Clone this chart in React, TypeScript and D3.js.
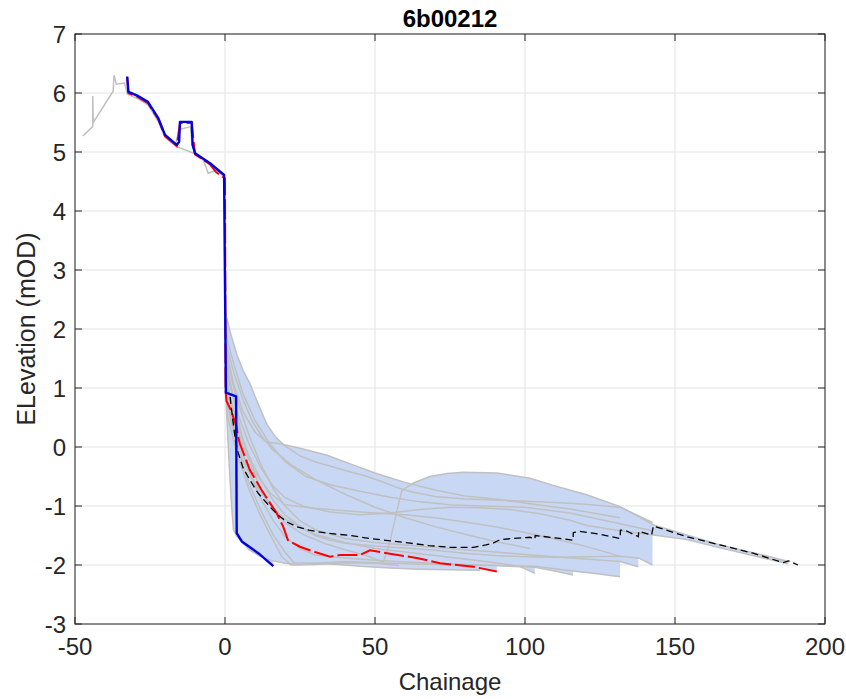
import React from "react";
import * as d3 from "d3";

type P = [number, number];

const TITLE = "6b00212";
const X_LABEL = "Chainage";
const Y_LABEL = "ELevation (mOD)";
const X_TICKS = [-50, 0, 50, 100, 150, 200];
const Y_TICKS = [-3, -2, -1, 0, 1, 2, 3, 4, 5, 6, 7];

const GREY_LAND_1: P[] = [[-47.4,5.27],[-44.1,5.43],[-44.1,5.95],[-43.9,5.5],[-37.3,6.03],[-37,6.3],[-36.2,6.15],[-33.5,6.17],[-32.5,5.98],[-29,5.9],[-25.7,5.8],[-22.3,5.52],[-20,5.25],[-16.1,5.09],[-10,4.97],[-7.2,4.86],[-5.6,4.64],[-2.8,4.69],[-0.3,4.58]];
const GREY_LAND_2: P[] = [[-32.8,6.05],[-29,5.92],[-25.5,5.82],[-22,5.56],[-20,5.3],[-16.5,5.12],[-15.3,5.38],[-11.5,5.43],[-11,5.12],[-10,4.99],[-5,4.8],[-0.2,4.6]];

const G1: P[] = [[0.2,2.27],[2,1.9],[4,1.56],[6,1.3],[8.3,1.08],[10,0.86],[12,0.62],[14,0.38],[17,0.16],[20,0.02],[25,-0.15],[30,-0.25],[36,-0.34],[41,-0.41],[46,-0.48],[52,-0.58],[57,-0.68],[62,-0.76],[70,-0.84],[80,-0.88],[90,-0.9],[100,-0.92],[110,-0.94],[120,-0.97],[131.7,-1.02],[142.5,-1.28]];
const G2: P[] = [[0.3,1.45],[2,1.05],[4,0.55],[6,0.12],[9,-0.35],[12,-0.72],[16,-1.05],[20,-1.28],[26,-1.48],[33,-1.63],[40,-1.74],[47,-1.84],[52.8,-1.95],[55,-1.6],[57,-1.15],[58.9,-0.74],[62.8,-0.61],[68.3,-0.5],[74,-0.45],[79.4,-0.43],[90.6,-0.44],[101.7,-0.53],[109.4,-0.65],[120.6,-0.81],[131.7,-1.01],[142.8,-1.32],[153.9,-1.49],[165,-1.66],[176,-1.79],[187.8,-1.94]];
const G3: P[] = [[0.3,1.65],[3,1.05],[6,0.6],[10,0.25],[13.9,0.08],[18,0.06],[25,-0.02],[34,-0.14],[42,-0.29],[50,-0.44],[60,-0.6],[70,-0.73],[80,-0.83],[90,-0.88],[101.7,-0.96],[115,-1.05],[131.7,-1.2]];
const G4: P[] = [[0.3,1.9],[3,1.4],[6,0.9],[10,0.45],[15,0.05],[20,-0.25],[27,-0.5],[35,-0.64],[45,-0.75],[55,-0.85],[65,-0.93],[75,-0.98],[85,-1.0],[100,-1.02],[115,-1.12],[131.7,-1.3],[142.5,-1.42]];
const G5: P[] = [[0.3,1.2],[3,0.5],[6,0.0],[10,-0.42],[15,-0.78],[20,-0.98],[30,-1.04],[40,-1.08],[50,-1.12],[60,-1.15],[70,-1.2],[80,-1.27],[90,-1.35],[100,-1.45],[110,-1.56],[120,-1.68],[131.7,-1.85]];
const G6: P[] = [[0.3,0.9],[3,0.3],[6,-0.22],[10,-0.62],[15,-0.98],[20,-1.22],[30,-1.48],[40,-1.62],[50,-1.72],[60,-1.78],[70,-1.84],[80,-1.9],[90,-1.96],[98,-2.02],[103.3,-2.14]];
const G7: P[] = [[0.4,1.05],[4,0.2],[8,-0.42],[12,-0.88],[16,-1.24],[20,-1.52],[25,-1.72],[30,-1.83],[40,-1.88],[50,-1.92],[60,-1.95],[70,-1.97],[80,-1.99],[90,-2.01],[103.3,-2.04],[110,-2.1],[116,-2.17]];
const G8: P[] = [[0.4,0.8],[4,0.0],[8,-0.62],[12,-1.08],[16,-1.48],[20,-1.78],[23,-1.96],[30,-1.97],[40,-1.94],[50,-1.96],[60,-1.98],[70,-1.99],[80,-2.0],[90,-2.01],[103.3,-2.02],[116,-2.1],[124,-2.15],[131.7,-2.2]];
const G9: P[] = [[0.4,1.5],[4,0.8],[8,0.2],[12,-0.3],[16,-0.7],[20,-1.0],[25,-1.25],[30,-1.4],[40,-1.55],[50,-1.62],[60,-1.66],[70,-1.7],[80,-1.74],[90,-1.78],[100,-1.82],[110,-1.86],[120,-1.9],[131.7,-1.94],[137.8,-2.03]];
const G10: P[] = [[0.5,0.6],[4,-0.12],[8,-0.72],[12,-1.18],[16,-1.58],[19,-1.86],[22,-2.0],[30,-1.99],[40,-1.96],[50,-1.97],[58,-2.01]];
const G11: P[] = [[0.5,1.1],[4,0.4],[8,-0.15],[12,-0.56],[16,-0.9],[20,-1.15],[25,-1.35],[30,-1.5],[35,-1.58],[40,-1.63],[50,-1.68],[60,-1.71],[70,-1.75],[80,-1.8],[90,-1.84],[100,-1.86],[110,-1.87],[120,-1.86],[131.7,-1.85],[137.8,-1.88],[142.5,-2.0]];
const G12: P[] = [[0.3,1.3],[4,0.6],[8,0.05],[12,-0.36],[16,-0.66],[20,-0.86],[26,-1.0],[35,-1.1],[45,-1.15],[55,-1.12],[65,-1.06],[75,-1.02],[85,-1.03],[95,-1.06],[105,-1.13],[115,-1.24],[120.6,-1.33],[131.7,-1.42],[142.8,-1.49],[154,-1.57],[165,-1.71],[176,-1.84],[187.8,-1.98]];
const G13: P[] = [[0.2,1.0],[0.8,0.3],[1.5,-0.4],[2.2,-1.0],[2.8,-1.4],[4,-1.52],[8,-1.74],[12,-1.86],[16,-1.93],[20,-1.97],[25,-1.99],[30,-1.97],[38,-1.99],[45,-2.02],[55,-2.05],[65,-2.07],[75,-2.08],[85,-2.09]];
const G14: P[] = [[0.3,1.75],[3,1.25],[6,0.8],[9,0.45],[12,0.2],[16,-0.05],[22,-0.3],[30,-0.55],[40,-0.8],[50,-1.02],[60,-1.2],[70,-1.35],[80,-1.48],[90,-1.6],[101.7,-1.72]];

const GREY_SEA: P[][] = [G1, G2, G3, G4, G5, G6, G7, G8, G9, G10, G11, G12, G13, G14];

const RED_LAND: P[] = [[-32.6,6.26],[-32.2,6.0],[-29,5.93],[-25.7,5.83],[-22.3,5.56],[-20,5.27],[-16.1,5.1],[-15,5.49],[-11.1,5.49],[-10,4.96],[-5,4.79],[-3,4.66],[0,4.55]];
const RED_SEA: P[] = [[0.2,0.95],[0.5,0.78],[2,0.62],[3.8,0.35],[4.4,0.17],[5,0.05],[8.3,-0.39],[12.2,-0.73],[17.2,-1.12],[19.4,-1.35],[21,-1.58],[25,-1.69],[30,-1.78],[35,-1.86],[38.3,-1.83],[45,-1.83],[48.3,-1.75],[55,-1.81],[63.9,-1.88],[71.7,-1.97],[82.8,-2.03],[90.6,-2.11]];

const BLUE_LAND: P[] = [[-32.6,6.28],[-32.2,6.02],[-29,5.95],[-25.7,5.85],[-22.3,5.58],[-20,5.29],[-16.1,5.12],[-15.3,5.17],[-15,5.51],[-11.1,5.51],[-10.8,5.12],[-10,4.98],[-5,4.81],[-0.3,4.61]];
const BLUE_SEA: P[] = [[0.3,0.92],[3.7,0.86],[3.9,-1.46],[5.6,-1.6],[11.1,-1.8],[16.1,-2.02]];

const MEAN: P[] = [[1.7,0.85],[2.5,0.5],[3.5,0.1],[4.4,-0.1],[6,-0.35],[8.3,-0.56],[11,-0.78],[13.9,-0.95],[16,-1.07],[18.3,-1.18],[21,-1.28],[23.9,-1.35],[28,-1.41],[33.9,-1.46],[41.7,-1.5],[48.3,-1.55],[55,-1.59],[61.7,-1.63],[68,-1.67],[75,-1.7],[82.8,-1.7],[87,-1.66],[89.4,-1.63],[91.7,-1.57],[96,-1.55],[101.7,-1.53],[103.3,-1.56],[103.4,-1.5],[110,-1.54],[116,-1.58],[116.1,-1.45],[118.3,-1.43],[125,-1.48],[131.7,-1.55],[131.8,-1.41],[133.3,-1.41],[137.8,-1.52],[137.9,-1.43],[142.2,-1.49],[142.8,-1.34],[153.9,-1.52],[165,-1.66],[176,-1.8],[186.1,-1.96],[187.8,-1.93],[191,-2.0]];

const W = 846, H = 699;
const L = 75, R = 825, T = 34, B = 624;
const FONT = "'Liberation Sans', Arial, Helvetica, sans-serif";

function interp(p: P[], x: number): number | null {
  if (x < p[0][0] || x > p[p.length - 1][0]) return null;
  for (let i = 1; i < p.length; i++) {
    const [x0, y0] = p[i - 1];
    const [x1, y1] = p[i];
    if (x >= x0 && x <= x1) {
      if (x1 === x0) return y1;
      return y0 + ((y1 - y0) * (x - x0)) / (x1 - x0);
    }
  }
  return null;
}

export default function App() {
  const x = d3.scaleLinear().domain([-50, 200]).range([L, R]);
  const y = d3.scaleLinear().domain([-3, 7]).range([B, T]);
  const line = d3.line<P>().x((d) => x(d[0])).y((d) => y(d[1]));

  const sea = [...GREY_SEA, RED_SEA, BLUE_SEA];
  const xsSet = new Set<number>();
  sea.forEach((p) => {
    p.forEach((d) => xsSet.add(d[0]));
    xsSet.add(p[p.length - 1][0] + 0.001);
  });
  const xs = Array.from(xsSet).sort((a, b) => a - b);
  const env: { x: number; lo: number; hi: number }[] = [];
  xs.forEach((xv) => {
    const vals = sea.map((p) => interp(p, xv)).filter((v) => v !== null) as number[];
    if (vals.length) env.push({ x: xv, lo: d3.min(vals)!, hi: d3.max(vals)! });
  });
  const area = d3
    .area<{ x: number; lo: number; hi: number }>()
    .x((d) => x(d.x))
    .y0((d) => y(d.lo))
    .y1((d) => y(d.hi));

  const grey = "#c0c0c0";
  const axisColor = "#262626";

  return (
    <svg width={W} height={H} style={{ position: "absolute", left: 0, top: 0, background: "#fff" }}>
      <rect x={0} y={0} width={W} height={H} fill="#fff" />
      {X_TICKS.map((t) => (
        <line key={"gx" + t} x1={x(t)} x2={x(t)} y1={T} y2={B} stroke="#e3e3e3" strokeWidth={1} />
      ))}
      {Y_TICKS.map((t) => (
        <line key={"gy" + t} x1={L} x2={R} y1={y(t)} y2={y(t)} stroke="#e3e3e3" strokeWidth={1} />
      ))}
      <path d={area(env) || ""} fill="#c8d8f4" stroke="none" />
      {[GREY_LAND_1, GREY_LAND_2].map((p, i) => (
        <path key={"gl" + i} d={line(p) || ""} fill="none" stroke={grey} strokeWidth={1.5} />
      ))}
      {GREY_SEA.map((p, i) => (
        <path key={"gs" + i} d={line(p) || ""} fill="none" stroke={grey} strokeWidth={1.5} />
      ))}
      <path d={line([...RED_LAND, ...RED_SEA]) || ""} fill="none" stroke="#ff0000" strokeWidth={2} strokeDasharray="20,4" />
      <path d={line(MEAN) || ""} fill="none" stroke="#000" strokeWidth={1.3} strokeDasharray="7,4" />
      <path d={line([...BLUE_LAND, ...BLUE_SEA]) || ""} fill="none" stroke="#0000e0" strokeWidth={2.4} strokeLinejoin="round" />
      <rect x={L} y={T} width={R - L} height={B - T} fill="none" stroke={axisColor} strokeWidth={1} />
      {X_TICKS.map((t) => (
        <g key={"tx" + t}>
          <line x1={x(t)} x2={x(t)} y1={B} y2={B - 7} stroke={axisColor} />
          <line x1={x(t)} x2={x(t)} y1={T} y2={T + 7} stroke={axisColor} />
          <text x={x(t)} y={655} textAnchor="middle" fontFamily={FONT} fontSize={24} fill={axisColor}>
            {t}
          </text>
        </g>
      ))}
      {Y_TICKS.map((t) => (
        <g key={"ty" + t}>
          <line x1={L} x2={L + 7} y1={y(t)} y2={y(t)} stroke={axisColor} />
          <line x1={R} x2={R - 7} y1={y(t)} y2={y(t)} stroke={axisColor} />
          <text x={66} y={y(t)} dy="0.36em" textAnchor="end" fontFamily={FONT} fontSize={24} fill={axisColor}>
            {t}
          </text>
        </g>
      ))}
      <text x={(L + R) / 2} y={690} textAnchor="middle" fontFamily={FONT} fontSize={24} fill={axisColor}>
        {X_LABEL}
      </text>
      <text transform={`translate(35,${(T + B) / 2}) rotate(-90)`} textAnchor="middle" fontFamily={FONT} fontSize={25} fill={axisColor}>
        {Y_LABEL}
      </text>
      <text x={(L + R) / 2} y={27} textAnchor="middle" fontFamily={FONT} fontSize={24} fontWeight="bold" fill="#000">
        {TITLE}
      </text>
    </svg>
  );
}
